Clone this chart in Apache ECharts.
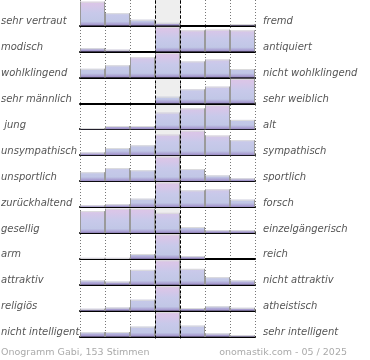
<!DOCTYPE html>
<html>
<head>
<meta charset="utf-8">
<script src="https://cdn.jsdelivr.net/npm/echarts@6/dist/echarts.min.js"></script>
<style>html,body{margin:0;padding:0;background:#fff}#c{width:370px;height:360px}</style>
</head>
<body>
<div id="c"></div>
<script>
// ---- data ----
const categories = ['1', '2', '3', '4', '5', '6', '7'];
const leftLabels = ['sehr vertraut', 'modisch', 'wohlklingend', 'sehr männlich', ' jung', 'unsympathisch', 'unsportlich', 'zurückhaltend', 'gesellig', 'arm', 'attraktiv', 'religiös', 'nicht intelligent'];
const rightLabels = ['fremd', 'antiquiert', 'nicht wohlklingend', 'sehr weiblich', 'alt', 'sympathisch', 'sportlich', 'forsch', 'einzelgängerisch', 'reich', 'nicht attraktiv', 'atheistisch', 'sehr intelligent'];
const vertraut = [99, 51, 24, 11, 0, 0, 6];
const modisch = [13, 7, 0, 100, 86, 89, 86];
const wohlklingend = [35, 49, 82, 99, 65, 73, 34];
const maennlich = [0, 0, 0, 27, 57, 68, 100];
const jung = [5, 13, 13, 68, 85, 98, 38];
const unsympathisch = [11, 29, 40, 84, 100, 80, 61];
const unsportlich = [36, 53, 44, 100, 49, 23, 11];
const zurueckhaltend = [7, 11, 34, 100, 68, 72, 30];
const gesellig = [89, 99, 99, 82, 24, 11, 11];
const arm = [4, 4, 20, 100, 11, 0, 0];
const attraktiv = [18, 13, 61, 100, 65, 31, 18];
const religioes = [8, 13, 45, 100, 11, 18, 12];
const intelligent = [18, 19, 41, 100, 45, 13, 6];
const footerLeft = 'Onogramm Gabi, 153 Stimmen';
const footerRight = 'onomastik.com - 05 / 2025';

const rows = [vertraut, modisch, wohlklingend, maennlich, jung, unsympathisch, unsportlich, zurueckhaltend, gesellig, arm, attraktiv, religioes, intelligent];

// ---- layout ----
const BASE0 = 25.5, STEP = 25.93, ROW_H = 25.93, LEFT = 80, WIDTH = 175, FULL = 24.5;
const Y_MAX = 100 * ROW_H / FULL;
const base = i => BASE0 + STEP * i;

const chart = echarts.init(document.getElementById('c'), null, {renderer: 'canvas'});

const grids = [], xAxes = [], yAxes = [], series = [], graphics = [];
const T = 'rgba(0,0,0,0)';

function renderBar(params, api) {
  const v = api.value(1);
  if (!v) return null;
  const x = api.value(0);
  const p0 = api.coord([x, 0]);
  const p1 = api.coord([x, v]);
  const w = api.size([1, 0])[0];
  const l = p0[0] - w / 2, r = p0[0] + w / 2;
  const cs = params.coordSys;
  const grad = new echarts.graphic.LinearGradient(0, cs.y, 0, cs.y + cs.height, [
    {offset: 0, color: '#dec4e6'},
    {offset: 0.2, color: '#d8c6e8'},
    {offset: 0.5, color: '#c8c9ea'},
    {offset: 0.84, color: '#c1c7e6'},
    {offset: 0.94, color: '#aba2d3'},
    {offset: 1, color: '#9a8bc4'}
  ], true);
  return {
    type: 'group',
    children: [
      {type: 'rect', shape: {x: l, y: p1[1], width: w, height: p0[1] - p1[1]}, style: {fill: grad}},
      {type: 'line', shape: {x1: l, y1: p1[1] + 0.5, x2: r, y2: p1[1] + 0.5}, style: {stroke: '#dcdcdc', lineWidth: 1}},
      {type: 'line', shape: {x1: r - 0.5, y1: p1[1], x2: r - 0.5, y2: p0[1]}, style: {stroke: '#9a9a9a', lineWidth: 1}},
      {type: 'line', shape: {x1: l + 0.5, y1: p1[1], x2: l + 0.5, y2: p0[1]}, style: {stroke: '#9a9a9a', lineWidth: 1}}
    ]
  };
}

rows.forEach((vals, i) => {
  grids.push({left: LEFT, width: WIDTH, top: base(i) - ROW_H, height: ROW_H});
  xAxes.push({
    type: 'category', gridIndex: i, data: categories, boundaryGap: true,
    axisLine: {show: true, lineStyle: {color: '#000', width: 2}},
    axisTick: {show: false}, axisLabel: {show: false}, splitLine: {show: false},
    splitArea: {show: true, interval: 0, areaStyle: {color: [T, T, T, '#eeeeee', T, T, T]}}
  });
  yAxes.push({type: 'value', gridIndex: i, min: 0, max: Y_MAX, show: false});
  series.push({
    type: 'custom', xAxisIndex: i, yAxisIndex: i, z: 3, silent: true,
    data: vals.map((v, j) => [j, v]),
    encode: {x: 0, y: 1},
    renderItem: renderBar
  });
  graphics.push({
    type: 'text', x: 1, y: base(i) - 4, silent: true,
    style: {text: leftLabels[i], fill: '#555', font: 'italic 10px "DejaVu Sans"', align: 'left', verticalAlign: 'middle'}
  });
  graphics.push({
    type: 'text', x: 263, y: base(i) - 4, silent: true,
    style: {text: rightLabels[i], fill: '#555', font: 'italic 10px "DejaVu Sans"', align: 'left', verticalAlign: 'middle'}
  });
});

// overlay grid for vertical guide lines
const OI = rows.length;
grids.push({left: LEFT, width: WIDTH, top: 0, height: 338.5});
xAxes.push({
  type: 'value', gridIndex: OI, min: 0, max: 7, interval: 1,
  axisLine: {show: false}, axisTick: {show: false}, axisLabel: {show: false},
  splitLine: {show: true, lineStyle: {color: '#777', width: 1, type: [1, 2]}}
});
yAxes.push({type: 'value', gridIndex: OI, min: 0, max: 1, show: false});
series.push({
  type: 'line', xAxisIndex: OI, yAxisIndex: OI, data: [], z: 10, silent: true,
  markLine: {
    silent: true, symbol: 'none', label: {show: false}, animation: false,
    lineStyle: {color: '#000', width: 1, type: [3, 2]},
    data: [{xAxis: 3}, {xAxis: 4}]
  }
});

graphics.push({
  type: 'text', x: 1, y: 352.5, silent: true,
  style: {text: footerLeft, fill: '#aaaaaa', font: '9.5px "DejaVu Sans"', align: 'left', verticalAlign: 'middle'}
});
graphics.push({
  type: 'text', x: 347, y: 352.5, silent: true,
  style: {text: footerRight, fill: '#aaaaaa', font: '9.5px "DejaVu Sans"', align: 'right', verticalAlign: 'middle'}
});

chart.setOption({
  animation: false,
  backgroundColor: '#fff',
  grid: grids, xAxis: xAxes, yAxis: yAxes, series: series,
  graphic: graphics
});
</script>
</body>
</html>
